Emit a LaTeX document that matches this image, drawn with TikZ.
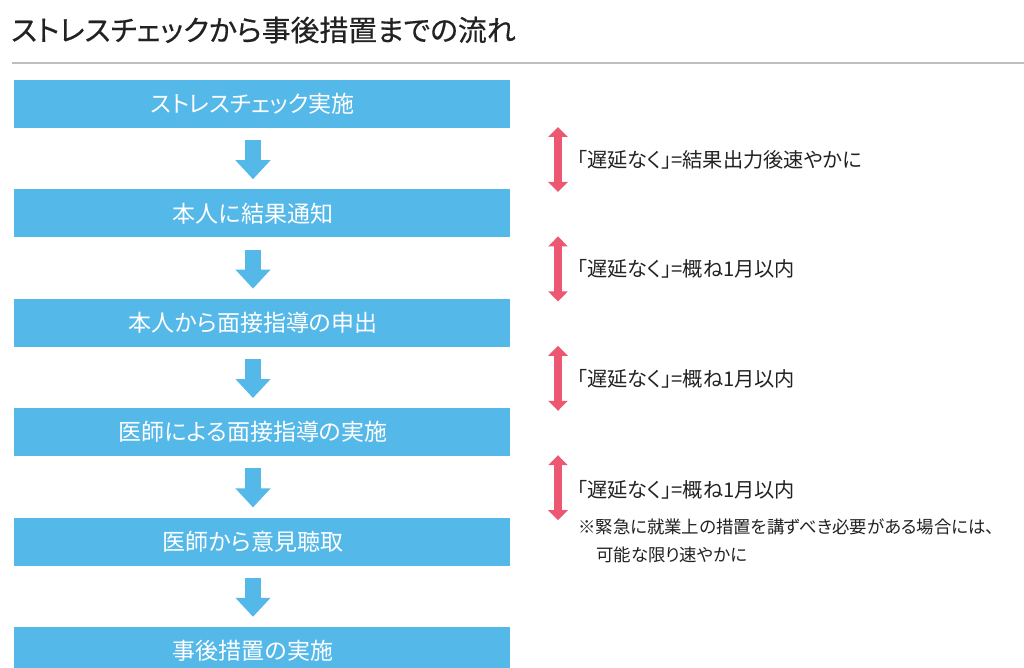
\documentclass[tikz,border=0pt]{standalone}
\usepackage{fontspec}
\setmainfont{Noto Sans CJK JP}
\newfontfamily\jpp[RawFeature=+palt]{Noto Sans CJK JP}
\newfontfamily\jpt[RawFeature=+palt, FakeBold=0.4]{Noto Sans CJK JP}
\usetikzlibrary{arrows.meta,calc}
\definecolor{boxblue}{RGB}{84,184,233}
\definecolor{pinkred}{RGB}{236,88,114}
\definecolor{txt}{RGB}{34,34,34}
\definecolor{rulegray}{RGB}{190,190,190}
\begin{document}
\begin{tikzpicture}[x=1pt,y=-1pt,
  stepbox/.style={fill=boxblue, minimum width=496.5pt, minimum height=48pt, inner sep=0pt, text=white, font=\jpp\fontsize{23}{23}\selectfont},
  flowarrow/.style={draw=boxblue, line width=16pt, -{Triangle[width=34pt,length=19pt]}},
  delay/.style={draw=pinkred, line width=7.5pt, {Triangle[width=19pt,length=10pt]}-{Triangle[width=19pt,length=10pt]}},
  delaytext/.style={anchor=west, inner sep=0pt, text=txt, font=\jpp\fontsize{20.2}{20.2}\selectfont},
  note/.style={anchor=west, inner sep=0pt, text=txt, font=\jpp\fontsize{17.4}{17.4}\selectfont},
  titlestyle/.style={anchor=west, inner sep=0pt, text=txt, font=\jpt\fontsize{28.8}{28.8}\selectfont}]
\useasboundingbox (0,0) rectangle (1024,668);
\clip (0,0) rectangle (1024,668);
\fill[white] (0,0) rectangle (1024,668);

\node[titlestyle] (title) at (11,30) {ストレスチェックから事後措置までの流れ};
\coordinate (ruleL) at (12,63.5);
\coordinate (ruleR) at (1024,63.5);
\draw[rulegray, line width=2pt] (ruleL) -- (ruleR);

\node[stepbox] (b1) at (261.75,104)   {\hspace*{-17.5pt}ストレスチェック実施};
\node[stepbox] (b2) at (261.75,213.4) {\hspace*{-17.5pt}本人に結果通知};
\node[stepbox] (b3) at (261.75,322.8) {\hspace*{-17.5pt}本人から面接指導の申出};
\node[stepbox] (b4) at (261.75,432.2) {\hspace*{-17.5pt}医師による面接指導の実施};
\node[stepbox] (b5) at (261.75,541.6) {\hspace*{-17.5pt}医師から意見聴取};
\node[stepbox] (b6) at (261.75,651)   {\hspace*{-17.5pt}事後措置の実施};

\foreach \a/\b in {b1/b2,b2/b3,b3/b4,b4/b5,b5/b6}{
  \draw[flowarrow] ($(\a.south)+(-8.75,12)$) -- ($(\b.north)+(-8.75,-10)$);
}

\foreach \i/\y in {1/127,2/236.4,3/345.8,4/455.2}{
  \coordinate (d\i a) at (558,\y);
  \coordinate (d\i b) at (558,\y+65);
  \draw[delay] (d\i a) -- (d\i b);
}

\node[delaytext] (t1) at (577,160) {「遅延なく」=結果出力後速やかに};
\node[delaytext] (t2) at (577,269) {「遅延なく」=概ね1月以内};
\node[delaytext] (t3) at (577,378.5) {「遅延なく」=概ね1月以内};
\node[delaytext] (t4) at (577,490) {「遅延なく」=概ね1月以内};
\node[note] (n1) at (578,527) {※緊急に就業上の措置を講ずべき必要がある場合には、};
\node[note] (n2) at (596,555) {可能な限り速やかに};
\end{tikzpicture}
\end{document}
